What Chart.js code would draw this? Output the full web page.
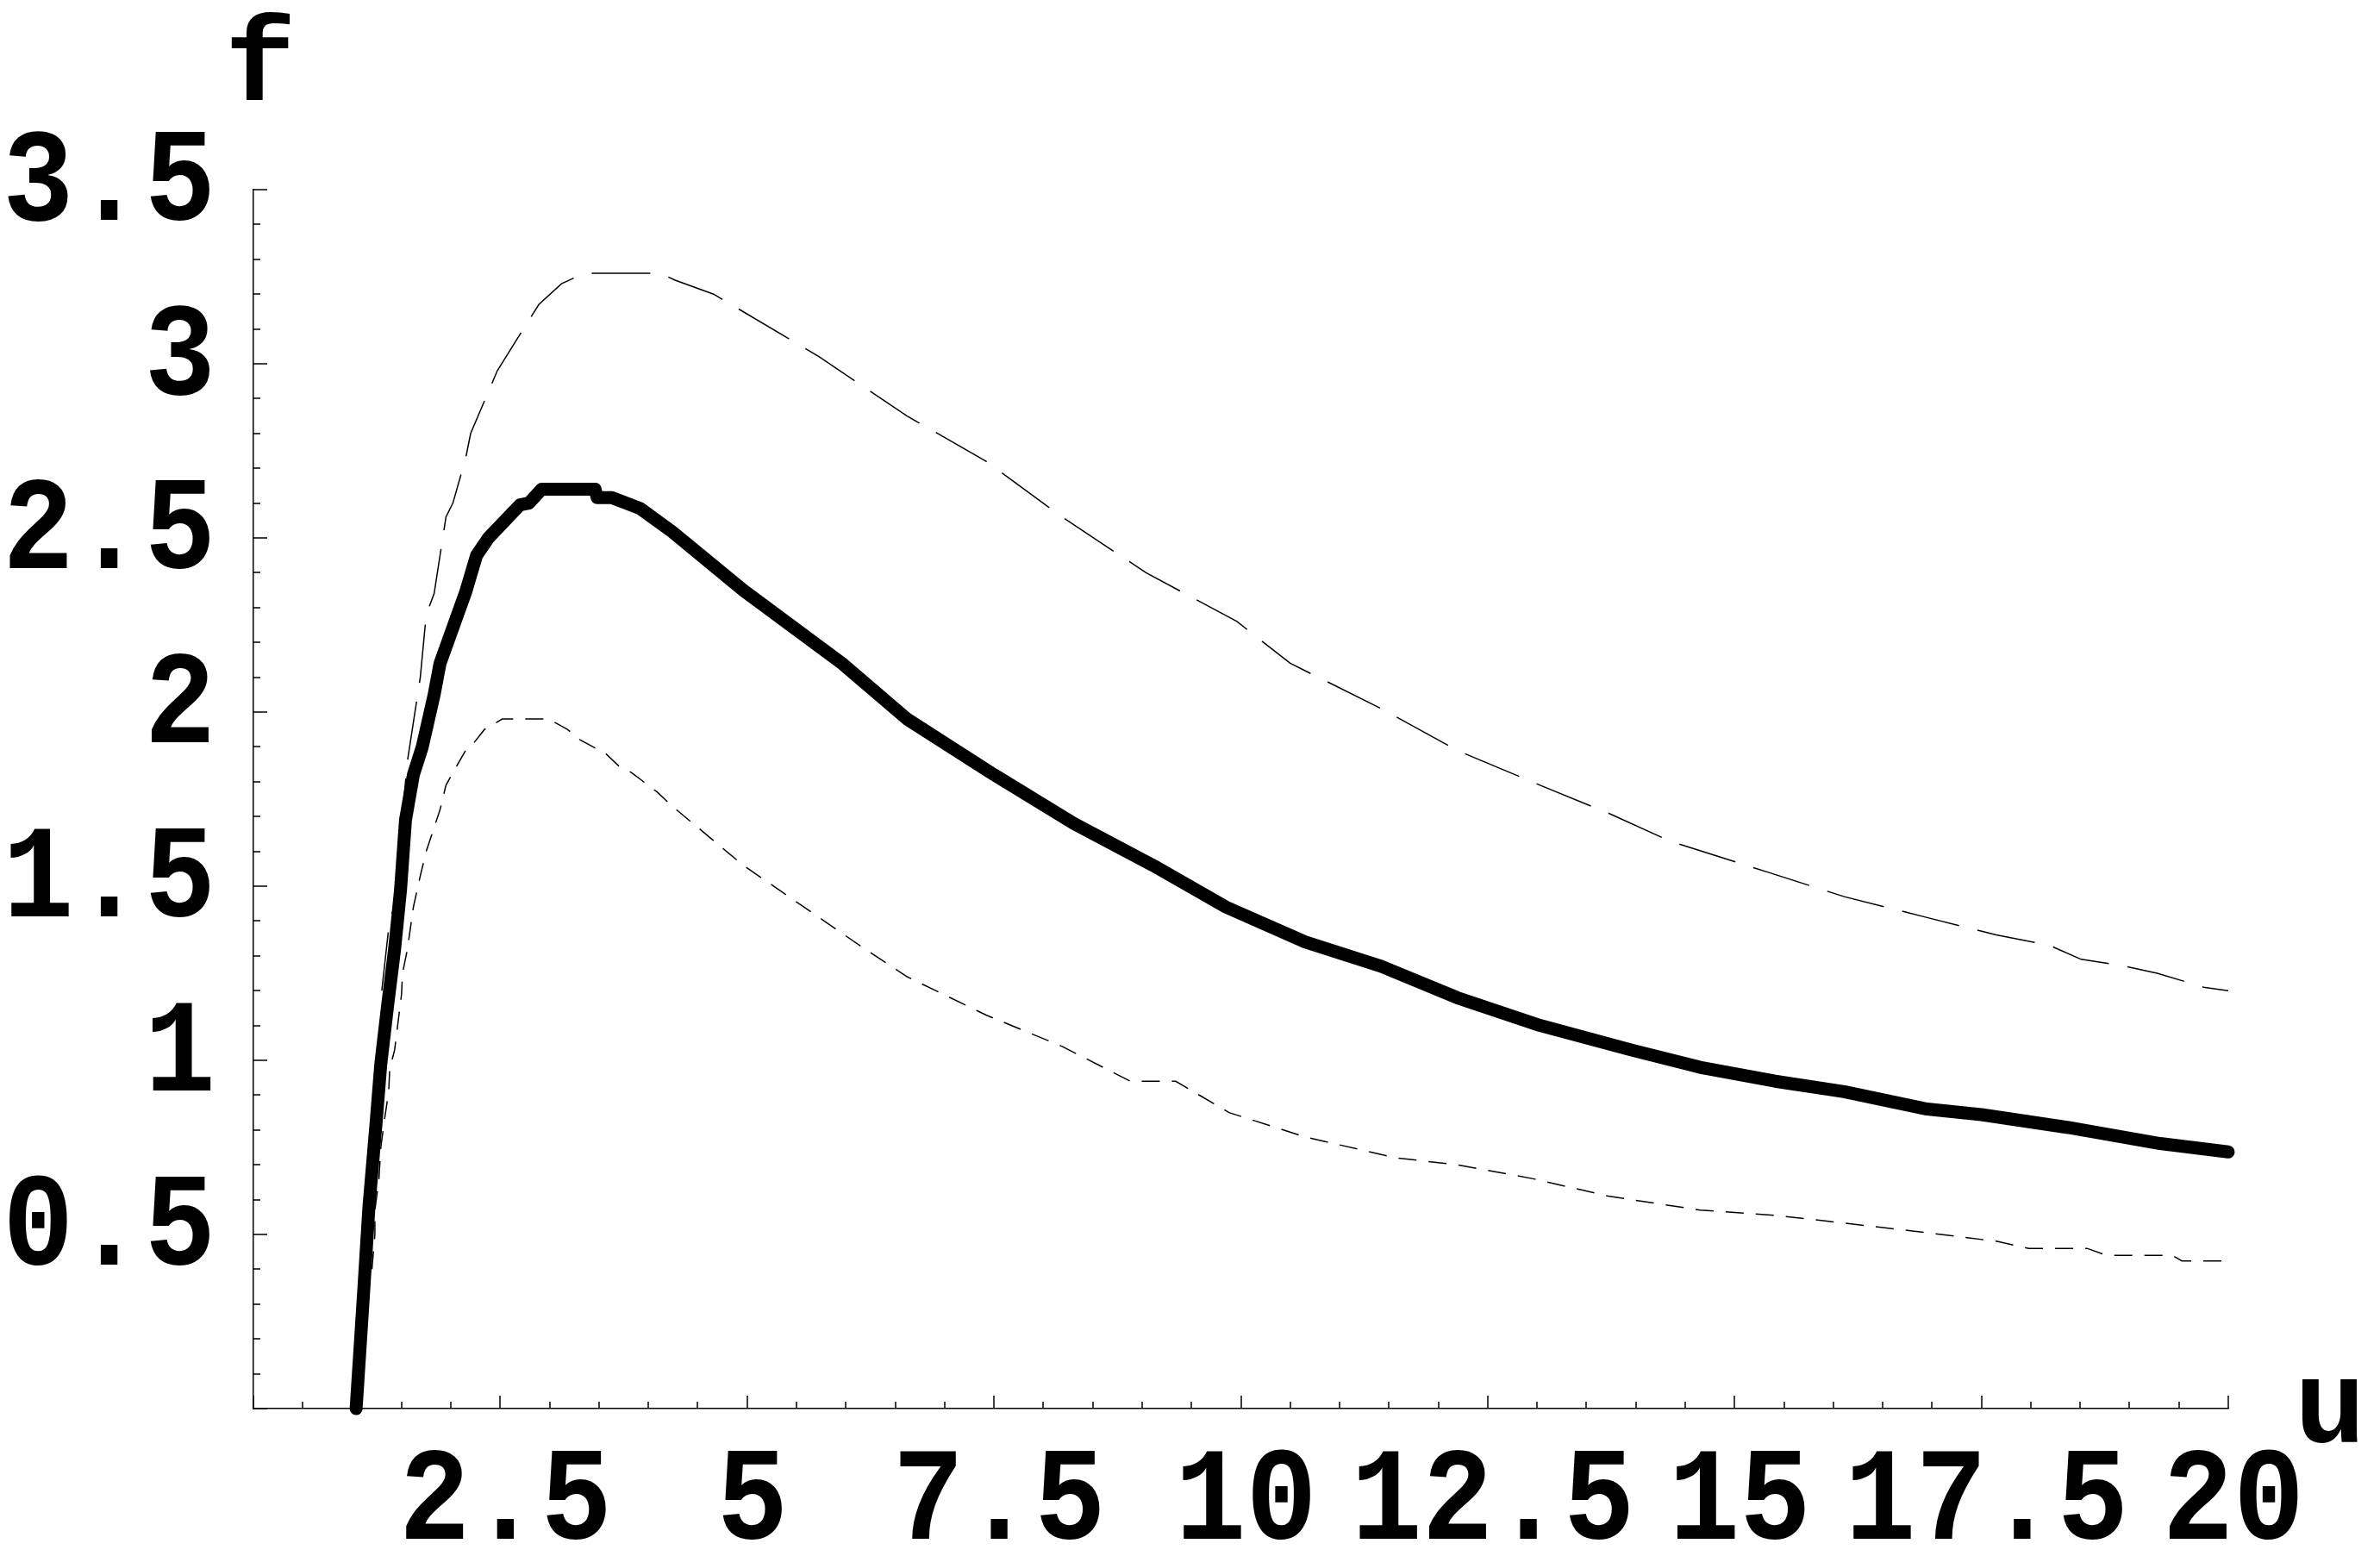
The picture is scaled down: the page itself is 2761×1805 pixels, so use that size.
<!DOCTYPE html>
<html>
<head>
<meta charset="utf-8">
<script src="https://cdn.jsdelivr.net/npm/chart.js@4.4.0/dist/chart.umd.min.js"></script>
<style>
  html, body { margin: 0; padding: 0; background: #fff; }
</style>
</head>
<body>
<canvas id="plot" width="2761" height="1805"></canvas>
<script>
// thick solid curve
const uSolid = [1.04, 1.115, 1.17, 1.245, 1.29, 1.36, 1.43, 1.49, 1.54, 1.62, 1.71, 1.83, 1.89, 2.15, 2.26, 2.38, 2.70, 2.79, 2.92, 3.46, 3.48, 3.63, 3.92, 4.24, 4.96, 5.96, 6.62, 7.50, 8.31, 9.11, 9.85, 10.65, 11.42, 12.19, 13.03, 13.95, 14.65, 15.41, 16.11, 16.95, 17.50, 18.38, 19.31, 20.0];
const fSolid = [0.0, 0.33, 0.58, 0.83, 0.99, 1.16, 1.32, 1.49, 1.69, 1.82, 1.90, 2.05, 2.14, 2.345, 2.45, 2.50, 2.595, 2.60, 2.64, 2.64, 2.616, 2.616, 2.584, 2.518, 2.35, 2.14, 1.98, 1.82, 1.68, 1.56, 1.44, 1.34, 1.27, 1.18, 1.10, 1.03, 0.98, 0.94, 0.91, 0.86, 0.844, 0.807, 0.761, 0.737];

// upper long-dashed curve
const uUpper = [1.30, 1.37, 1.42, 1.56, 1.69, 1.75, 1.83, 1.89, 1.95, 2.02, 2.15, 2.20, 2.47, 2.69, 2.89, 3.12, 3.35, 4.12, 4.27, 4.66, 5.73, 6.62, 7.42, 8.19, 9.04, 9.96, 10.5, 11.42, 12.19, 13.03, 13.72, 14.34, 15.34, 16.11, 16.95, 17.65, 18.19, 18.51, 18.96, 19.28, 19.75, 20.0];
const fUpper = [1.20, 1.38, 1.44, 1.86, 2.10, 2.28, 2.34, 2.45, 2.56, 2.60, 2.73, 2.80, 2.98, 3.08, 3.17, 3.23, 3.26, 3.26, 3.24, 3.20, 3.02, 2.85, 2.72, 2.56, 2.40, 2.26, 2.14, 2.01, 1.89, 1.79, 1.71, 1.63, 1.54, 1.47, 1.41, 1.36, 1.33, 1.29, 1.27, 1.25, 1.21, 1.20];

// lower short-dashed curve
const uLower = [1.20, 1.23, 1.23, 1.27, 1.29, 1.33, 1.37, 1.38, 1.43, 1.50, 1.51, 1.56, 1.59, 1.62, 1.69, 1.75, 1.82, 1.89, 1.95, 2.02, 2.15, 2.20, 2.34, 2.52, 2.99, 3.18, 3.31, 3.44, 3.57, 3.70, 3.83, 4.09, 4.24, 4.96, 5.73, 6.19, 6.62, 7.42, 8.19, 8.88, 9.34, 9.88, 10.65, 11.57, 12.19, 12.96, 13.72, 14.65, 15.41, 15.88, 16.80, 17.66, 17.98, 18.57, 18.77, 19.43, 19.53, 20.0];
const fLower = [0.40, 0.50, 0.57, 0.655, 0.75, 0.835, 0.91, 0.975, 1.03, 1.19, 1.25, 1.32, 1.38, 1.44, 1.53, 1.60, 1.66, 1.72, 1.79, 1.826, 1.89, 1.90, 1.95, 1.98, 1.98, 1.95, 1.92, 1.90, 1.88, 1.845, 1.826, 1.77, 1.73, 1.56, 1.41, 1.32, 1.24, 1.13, 1.04, 0.94, 0.94, 0.85, 0.78, 0.72, 0.70, 0.66, 0.61, 0.57, 0.555, 0.54, 0.51, 0.48, 0.46, 0.46, 0.44, 0.44, 0.424, 0.424];

// axes
const xTicks = [2.5, 5, 7.5, 10, 12.5, 15, 17.5, 20];
const yTicks = [0.5, 1, 1.5, 2, 2.5, 3, 3.5];
const xLabel = 'u';
const yLabel = 'f';

const FONT = "'Liberation Mono', 'Courier New', monospace";
const FONT_SIZE = 137;
const DIGIT_STRETCH = 1.13; // the original digits are a bit taller than Liberation Mono's

const toPoints = (us, fs) => us.map((u, i) => ({ x: u, y: fs[i] }));

// Mathematica style axes: ticks pointing into the plot, minor ticks, labels
const mmaAxes = {
    id: 'mmaAxes',
    beforeDatasetsDraw(chart) {
        const { ctx, scales: { x, y } } = chart;
        ctx.save();
        ctx.strokeStyle = '#000';
        ctx.lineWidth = 1.5;
        ctx.beginPath();
        for (let i = 0; i <= 40; i++) {
            const px = Math.round(x.getPixelForValue(i * 0.5));
            const len = i % 5 === 0 ? 15 : 8;
            ctx.moveTo(px, x.top);
            ctx.lineTo(px, x.top - len);
        }
        for (let i = 0; i <= 35; i++) {
            const py = Math.round(y.getPixelForValue(i * 0.1));
            const len = i % 5 === 0 ? 16 : 8;
            ctx.moveTo(y.right, py);
            ctx.lineTo(y.right + len, py);
        }
        ctx.stroke();
        ctx.restore();
    },
    afterDraw(chart) {
        const { ctx, scales: { x, y } } = chart;
        ctx.save();
        ctx.fillStyle = '#000';
        ctx.font = 'bold ' + FONT_SIZE + 'px ' + FONT;
        ctx.textBaseline = 'alphabetic';

        // tick labels
        ctx.textAlign = 'center';
        xTicks.forEach(v => {
            ctx.save();
            ctx.translate(x.getPixelForValue(v) + 6, x.top + 151);
            ctx.scale(1, DIGIT_STRETCH);
            ctx.fillText(String(v), 0, 0);
            ctx.restore();
        });
        ctx.textAlign = 'right';
        yTicks.forEach(v => {
            ctx.save();
            ctx.translate(y.right - 44, y.getPixelForValue(v) + 35);
            ctx.scale(1, DIGIT_STRETCH);
            ctx.fillText(String(v), 0, 0);
            ctx.restore();
        });

        // axis names
        ctx.textAlign = 'center';
        ctx.fillText(yLabel, y.right + 8, y.top - 104);
        ctx.fillText(xLabel, x.right + 118, x.top + 39);
        ctx.restore();
    }
};

new Chart(document.getElementById('plot'), {
    type: 'line',
    data: {
        datasets: [
            {
                data: toPoints(uUpper, fUpper),
                borderColor: '#000',
                borderWidth: 1.5,
                borderDash: [68, 22],
                pointRadius: 0,
                tension: 0
            },
            {
                data: toPoints(uLower, fLower),
                borderColor: '#000',
                borderWidth: 1.5,
                borderDash: [21, 14],
                pointRadius: 0,
                tension: 0
            },
            {
                data: toPoints(uSolid, fSolid),
                borderColor: '#000',
                borderWidth: 15,
                borderCapStyle: 'round',
                borderJoinStyle: 'round',
                pointRadius: 0,
                tension: 0,
                clip: false
            }
        ]
    },
    options: {
        responsive: false,
        animation: false,
        layout: { padding: { top: 220, right: 176, left: 0, bottom: 0 } },
        plugins: { legend: { display: false }, tooltip: { enabled: false } },
        scales: {
            x: {
                type: 'linear',
                min: 0,
                max: 20,
                grid: { display: false },
                border: { display: true, color: '#000', width: 1.5 },
                afterBuildTicks: s => { s.ticks = xTicks.map(v => ({ value: v })); },
                afterFit: s => { s.height = 171; },
                ticks: { display: false }
            },
            y: {
                type: 'linear',
                min: 0,
                max: 3.5,
                grid: { display: false },
                border: { display: true, color: '#000', width: 1.5 },
                afterBuildTicks: s => { s.ticks = yTicks.map(v => ({ value: v })); },
                afterFit: s => { s.width = 294; },
                ticks: { display: false }
            }
        }
    },
    plugins: [mmaAxes]
});
</script>
</body>
</html>
